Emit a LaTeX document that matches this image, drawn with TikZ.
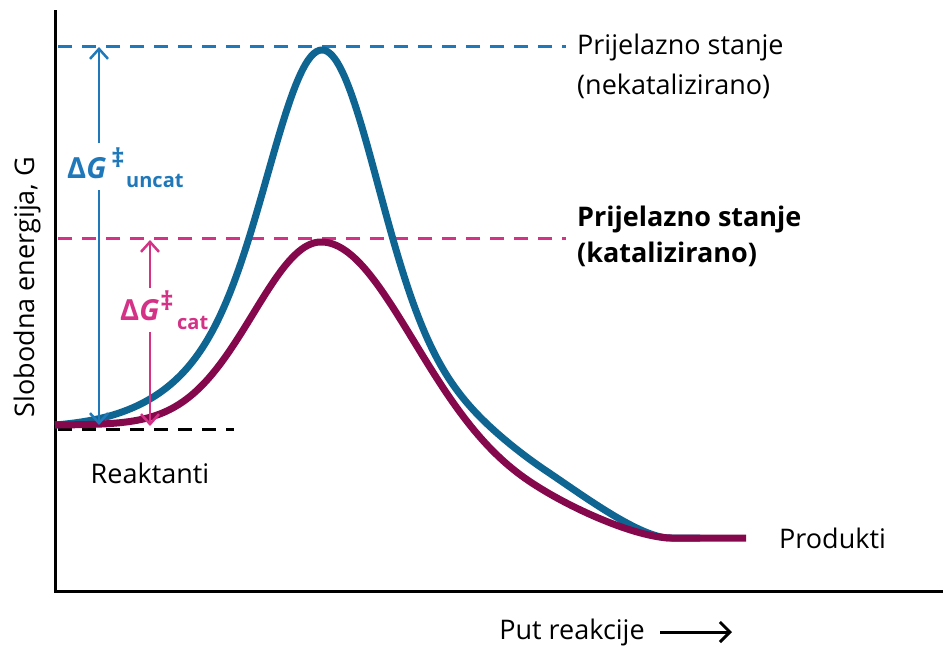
\documentclass[tikz,border=0pt]{standalone}
\usepackage{fontspec}
\setmainfont{Open Sans}
\usetikzlibrary{arrows.meta}
\definecolor{ublue}{RGB}{14,101,146}
\definecolor{dblue}{RGB}{30,120,185}
\definecolor{cpurple}{RGB}{133,8,77}
\definecolor{cpink}{RGB}{212,50,135}
\begin{document}
\begin{tikzpicture}[x=1pt,y=-1pt,
  axis/.style={line width=3pt,black},
  curve/.style={line width=7pt,line join=round},
  dashline/.style={line width=3pt,dash pattern=on 14pt off 10pt},
  lbl/.style={font=\fontsize{27}{40}\selectfont,inner sep=0pt},
  blbl/.style={font=\bfseries\fontsize{27}{36}\selectfont,inner sep=0pt},
  dg/.style={font=\bfseries\fontsize{29}{30}\selectfont,inner sep=0pt},
  dgdag/.style={font=\bfseries\fontsize{26}{26}\selectfont,inner sep=0pt},
  dgsub/.style={font=\bfseries\fontsize{20}{24}\selectfont,inner sep=0pt},
  darrow/.style={line width=2.5pt,-{Straight Barb[length=10pt,width=18pt,line width=2.5pt]}}
]
\useasboundingbox (0,0) rectangle (943,649);
\fill[white] (0,0) rectangle (943,649);
% axes
\draw[axis] (55,10) -- (55,591) -- (943,591);
% dashed levels
\draw[dashline,dblue] (58,46) -- (566,46);
\draw[dashline,cpink] (58,238) -- (566,238);
\draw[dashline,black] (58,429) -- (234,429);
% uncatalysed curve
\draw[curve,ublue]
  plot[domain=55:322,samples=100,smooth] (\x,{425-375*(0.6*exp(-2*((322-\x)/100)*((322-\x)/100))+0.4*exp(-0.58*((322-\x)/100)*((322-\x)/100))-0.0024*((322-\x)/100))})
  -- plot[domain=322:546,samples=90,smooth] (\x,{538-488*(0.58*exp(-1.78*((\x-322)/100)*((\x-322)/100))+0.42*exp(-0.2222*((\x-322)/100)*((\x-322)/100)))})
  .. controls (583,495.5) and (640,538) .. (670,538) -- (700,538);
% catalysed curve
\draw[curve,cpurple]
  plot[domain=55:321,samples=100,smooth] (\x,{425-183*exp(-1.0813*((321-\x)/100)*((321-\x)/100))})
  -- plot[domain=321:521,samples=80,smooth] (\x,{538-296*(0.6*exp(-0.692*((\x-321)/100)*((\x-321)/100))+0.4*exp(-0.2081*((\x-321)/100)*((\x-321)/100)))})
  .. controls (561,504.8) and (635,538) .. (672,538) -- (746,538);
% arrows blue
\coordinate (bt) at (99,47);
\coordinate (bb) at (99,425);
\coordinate (bm1) at (99,143);
\coordinate (bm2) at (99,190);
\draw[darrow,dblue] (bm1) -- (bt);
\draw[darrow,dblue] (bm2) -- (bb);
\node[dg,dblue,anchor=base west] (dgu) at (67,178) {Δ\textit{G}};
\node[dgdag,dblue,anchor=center] (dgudag) at (118,158) {‡};
\node[dgsub,dblue,anchor=base west] (dgusub) at (126,187) {uncat};
% arrows pink
\coordinate (pt) at (150,240);
\coordinate (pb) at (150,426);
\coordinate (pm1) at (150,288);
\coordinate (pm2) at (150,332);
\draw[darrow,cpink] (pm1) -- (pt);
\draw[darrow,cpink] (pm2) -- (pb);
\node[dg,cpink,anchor=base west] (dgc) at (120,320) {Δ\textit{G}};
\node[dgdag,cpink,anchor=center] (dgcdag) at (167,301) {‡};
\node[dgsub,cpink,anchor=base west] (dgcsub) at (177,329) {cat};
% labels
\node[lbl,anchor=west,align=left] (tsu) at (577,66) {Prijelazno stanje\\(nekatalizirano)};
\node[blbl,anchor=west,align=left] (tsc) at (577,236) {Prijelazno stanje\\(katalizirano)};
\node[lbl,anchor=base] (reak) at (150,483) {Reaktanti};
\node[lbl,anchor=west] (prod) at (779,538) {Produkti};
\node[lbl] (put) at (572,632) {Put reakcije};
\coordinate (pa1) at (660,632);
\coordinate (pa2) at (732,632);
\draw[line width=3pt,-{Straight Barb[length=10pt,width=20pt,line width=3pt]}] (pa1) -- (pa2);
\node[lbl,rotate=90] (ylab) at (27,287) {Slobodna energija, G};
\end{tikzpicture}
\end{document}
